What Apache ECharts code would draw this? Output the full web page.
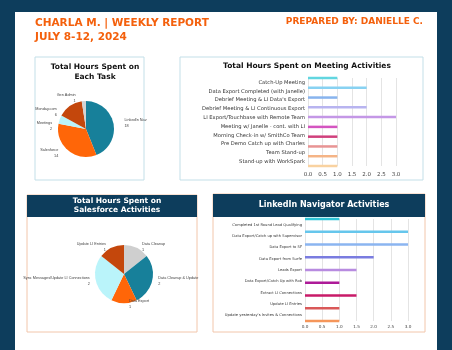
<!DOCTYPE html>
<html>
<head>
<meta charset="utf-8">
<script src="https://cdn.jsdelivr.net/npm/echarts@6/dist/echarts.min.js"></script>
<style>
  body { margin: 0; }
  #chart { width: 452px; height: 350px; }
</style>
</head>
<body>
<div id="chart"></div>
<script>
// data
const taskNames = ["LinkedIn Nav", "Salesforce", "Meetings", "Monday.com", "Gen Admin"];
const taskHours = [18, 14, 2, 6, 1];

const meetingNames = [
  "Catch-Up Meeting",
  "Data Export Completed (with Janelle)",
  "Debrief Meeting & LI Data's Export",
  "Debrief Meeting & LI Continuous Export",
  "LI Export/Touchbase with Remote Team",
  "Meeting w/ Janelle - cont. with LI",
  "Morning Check-in w/ SmithCo Team",
  "Pre Demo Catch up with Charles",
  "Team Stand-up",
  "Stand-up with WorkSpark"
];
const meetingHours = [1, 2, 1, 2, 3, 1, 1, 1, 1, 1];

const sfNames = ["Data Cleanup", "Data Cleanup & Update", "Data Export", "Sync Messages/Update LI Connections", "Update LI Entries"];
const sfHours = [1, 2, 1, 2, 1];

const liNames = [
  "Completed 1st Round Lead Qualifying",
  "Data Export/Catch up with Supervisor",
  "Data Export to SF",
  "Data Export from Surfe",
  "Leads Export",
  "Data Export/Catch Up with Rob",
  "Extract LI Connections",
  "Update LI Entries",
  "Update yesterday's Invites & Connections"
];
const liHours = [1, 3, 3, 2, 1.5, 1, 1.5, 1, 1];

// colours
const pieColors = ["#17809a", "#ff6608", "#baf4fa", "#c4470c", "#d3d3d3"];
const sfColors = ["#cfcfcf", "#17809a", "#ff6608", "#baf4fa", "#c4470c"];
const meetingColors = ["#62d6e0", "#88d2f2", "#88b4ee", "#b8b4f0", "#c497e6", "#d455c0", "#d0407c", "#e89494", "#f5b486", "#f9d2a0"];
const liColors = ["#30c4d8", "#66c6ec", "#8bb5f0", "#7a7ce0", "#b88be0", "#ad1a98", "#c81a68", "#d95858", "#f5965a"];

const navy = "#0d3d5c";
const orange = "#f4600c";
const font = "DejaVu Sans";

const chart = echarts.init(document.getElementById("chart"));

function pieData(names, vals, colors) {
  return names.map((n, i) => ({ name: n, value: vals[i], itemStyle: { color: colors[i] } }));
}
function barData(vals, colors) {
  return vals.map((v, i) => ({ value: v, itemStyle: { color: colors[i] } }));
}

const hidden = { show: false };
const pieLabel = {
  show: true,
  position: "outside",
  formatter: "{b}\n{c}",
  fontSize: 3.8,
  lineHeight: 6,
  color: "#444",
  overflow: "none",
  fontFamily: "Liberation Sans"
};

chart.setOption({
  backgroundColor: navy,
  animation: false,
  graphic: [
    { type: "rect", z: -10, shape: { x: 15, y: 12, width: 422, height: 345 }, style: { fill: "#fff" } },
    { type: "rect", z: -9, shape: { x: 35, y: 57, width: 109, height: 123 }, style: { fill: "#fff", stroke: "#c3dfe8", lineWidth: 1 } },
    { type: "rect", z: -9, shape: { x: 180, y: 57, width: 243, height: 123 }, style: { fill: "#fff", stroke: "#c3dfe8", lineWidth: 1 } },
    { type: "rect", z: -9, shape: { x: 27, y: 195, width: 170, height: 137 }, style: { fill: "#fff", stroke: "#f2c6ab", lineWidth: 1 } },
    { type: "rect", z: -8, shape: { x: 27, y: 195, width: 170, height: 22 }, style: { fill: navy } },
    { type: "rect", z: -9, shape: { x: 213, y: 194, width: 212, height: 138 }, style: { fill: "#fff", stroke: "#f2c6ab", lineWidth: 1 } },
    { type: "rect", z: -8, shape: { x: 213, y: 194, width: 212, height: 23 }, style: { fill: navy } }
  ],
  title: [
    { text: "CHARLA M. | WEEKLY REPORT\nJULY 8-12, 2024", left: 30, top: 11,
      textStyle: { color: orange, fontSize: 10.5, fontWeight: "bold", lineHeight: 14, fontFamily: font } },
    { text: "PREPARED BY: DANIELLE C.", right: 24, top: 12,
      textStyle: { color: orange, fontSize: 9, fontWeight: "bold", fontFamily: font } },
    { text: "Total Hours Spent on\nEach Task", left: 90, top: 57, textAlign: "center",
      textStyle: { color: "#111", fontSize: 7.5, fontWeight: "bold", lineHeight: 10, fontFamily: font } },
    { text: "Total Hours Spent on Meeting Activities", left: 302, top: 57, textAlign: "center",
      textStyle: { color: "#111", fontSize: 7.5, fontWeight: "bold", fontFamily: font } },
    { text: "Total Hours Spent on\nSalesforce Activities", left: 112, top: 191, textAlign: "center",
      textStyle: { color: "#fff", fontSize: 7.5, fontWeight: "bold", lineHeight: 9.5, fontFamily: font } },
    { text: "LinkedIn Navigator Activities", left: 319, top: 196, textAlign: "center",
      textStyle: { color: "#fff", fontSize: 8, fontWeight: "bold", fontFamily: font } }
  ],
  grid: [
    { left: 308, top: 78, width: 88, height: 88 },
    { left: 305, top: 219, width: 103, height: 102 }
  ],
  xAxis: [0, 1].map(g => ({
    type: "value", gridIndex: g, min: 0, max: 3, interval: 0.5,
    axisLine: hidden, axisTick: hidden,
    splitLine: { lineStyle: { color: "#e4e4e4" } },
    axisLabel: { fontSize: g === 0 ? 5.5 : 4.2, color: "#444", margin: g === 0 ? 6 : 4,
      fontFamily: font, formatter: v => v.toFixed(1) }
  })),
  yAxis: [
    { type: "category", gridIndex: 0, inverse: true, data: meetingNames, boundaryGap: true,
      axisLine: hidden, axisTick: hidden,
      axisLabel: { fontSize: 5.2, color: "#333", margin: 3, fontFamily: font } },
    { type: "category", gridIndex: 0, inverse: true, data: meetingNames, boundaryGap: false, show: false },
    { type: "category", gridIndex: 1, inverse: true, data: liNames, boundaryGap: true,
      axisLine: hidden, axisTick: hidden,
      axisLabel: { fontSize: 3.7, color: "#333", margin: 3, fontFamily: font } },
    { type: "category", gridIndex: 1, inverse: true, data: liNames, boundaryGap: false, show: false }
  ],
  series: [
    { type: "pie", center: [86, 129], radius: 28, startAngle: 90, clockwise: true,
      data: pieData(taskNames, taskHours, pieColors),
      label: pieLabel, labelLine: { show: false, length: 3, length2: 3 } },
    { type: "pie", center: [124, 274], radius: 29, startAngle: 90, clockwise: true,
      data: pieData(sfNames, sfHours, sfColors),
      label: pieLabel, labelLine: { show: false, length: 1, length2: 0 } },
    { type: "bar", xAxisIndex: 0, yAxisIndex: 1, barWidth: 2.5,
      data: barData(meetingHours, meetingColors) },
    { type: "bar", xAxisIndex: 1, yAxisIndex: 3, barWidth: 2.5,
      data: barData(liHours, liColors) }
  ]
});
</script>
</body>
</html>
